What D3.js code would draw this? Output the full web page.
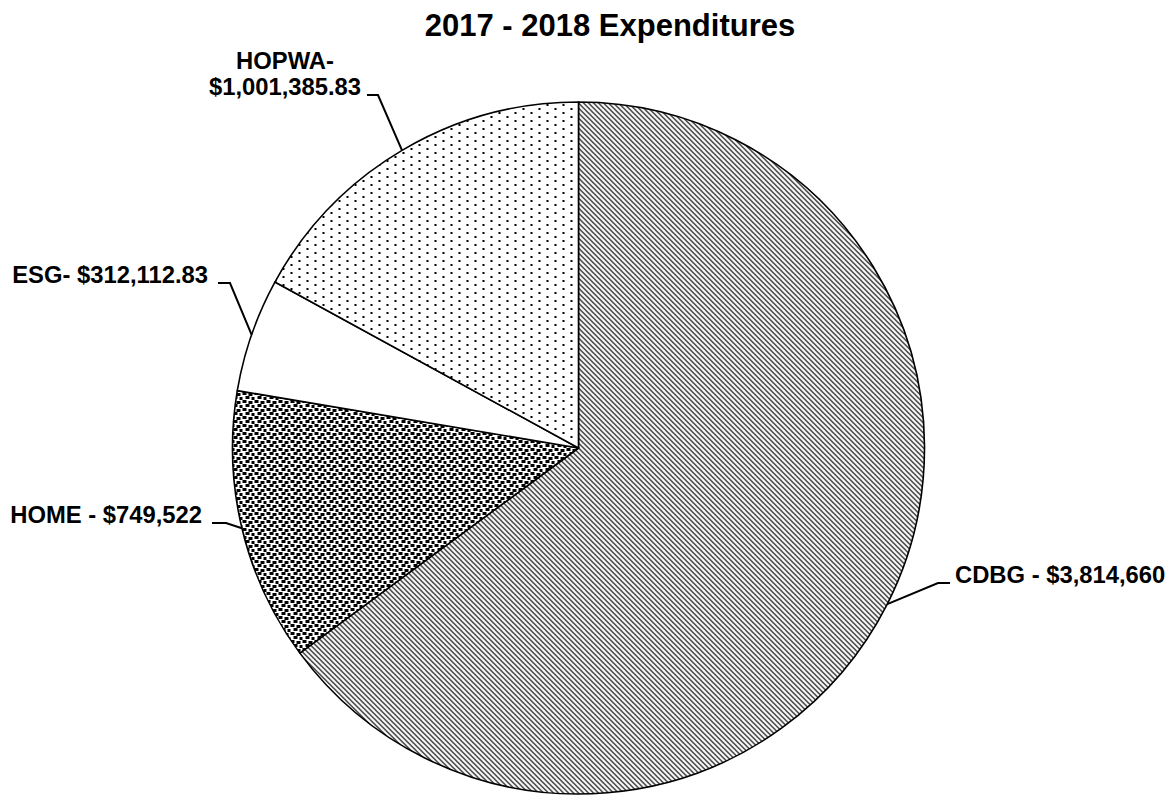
<!DOCTYPE html>
<html>
<head>
<meta charset="utf-8">
<script src="https://cdn.jsdelivr.net/npm/d3@7"></script>
<style>
    body { margin: 0; background: #fff; }
    svg { display: block; font-family: "Liberation Sans", Arial, sans-serif; }
</style>
</head>
<body>
<svg id="pieChart" width="1172" height="796"></svg>
<script>
let categories = ["CDBG", "HOME", "ESG", "HOPWA"];
let amounts = [3814660, 749522, 312112.83, 1001385.83];
let labelLines = [
    ["CDBG - $3,814,660"],
    ["HOME - $749,522"],
    ["ESG- $312,112.83"],
    ["HOPWA-", "$1,001,385.83"]
];
let fills = ["url(#diag)", "url(#confetti)", "#ffffff", "url(#dots)"];

// where each label sits (x, baseline of last line, anchor, end of the short horizontal leader)
let labelPlace = {
    CDBG:  {x: 955, y: 583, anchor: "start", lineFrom: 950, elbow: 938},
    HOME:  {x: 202, y: 523, anchor: "end",   lineFrom: 212, elbow: 226},
    ESG:   {x: 208, y: 283, anchor: "end",   lineFrom: 218, elbow: 230},
    HOPWA: {x: 285, y: 95,  anchor: "middle", lineFrom: 367, elbow: 378}
};

let data = categories.map((c, i) => ({name: c, value: amounts[i], lines: labelLines[i], fill: fills[i]}));

let svg = d3.select("#pieChart"),
    cx = 578.5,
    cy = 448,
    radius = 346;

let defs = svg.append("defs");

let diag = defs.append("pattern")
    .attr("id", "diag")
    .attr("patternUnits", "userSpaceOnUse")
    .attr("width", 5).attr("height", 5);
diag.append("rect").attr("width", 5).attr("height", 5).attr("fill", "#fff");
diag.append("path")
    .attr("d", "M0,0 L5,5 M-1,4 L1,6 M4,-1 L6,1")
    .attr("stroke", "#000")
    .attr("stroke-width", 1.2);

let confetti = defs.append("pattern")
    .attr("id", "confetti")
    .attr("patternUnits", "userSpaceOnUse")
    .attr("width", 12).attr("height", 8);
confetti.append("rect").attr("width", 12).attr("height", 8).attr("fill", "#fff");
[[0, 0], [6, 1], [3, 4], [9, 5]].forEach(function(r){
    confetti.append("rect")
        .attr("x", r[0]).attr("y", r[1])
        .attr("width", 3.5).attr("height", 2.5)
        .attr("fill", "#000")
        .attr("shape-rendering", "crispEdges");
});

let dots = defs.append("pattern")
    .attr("id", "dots")
    .attr("patternUnits", "userSpaceOnUse")
    .attr("width", 16).attr("height", 8);
dots.append("rect").attr("width", 16).attr("height", 8).attr("fill", "#fff");
[[0, 0], [8, 4]].forEach(function(r){
    dots.append("rect")
        .attr("x", r[0]).attr("y", r[1])
        .attr("width", 2).attr("height", 2)
        .attr("fill", "#000")
        .attr("shape-rendering", "crispEdges");
});

svg.append("text")
    .attr("x", 610)
    .attr("y", 36)
    .attr("text-anchor", "middle")
    .style("font-size", "31px")
    .style("font-weight", "bold")
    .text("2017 - 2018 Expenditures");

let pie = d3.pie()
    .sort(null)
    .value(function(d){ return d.value; });

let arcs = pie(data);

let section = d3.arc()
    .innerRadius(0)
    .outerRadius(radius);

let g = svg.append("g")
    .attr("transform", `translate(${cx},${cy})`);

g.selectAll("path.slice")
    .data(arcs)
    .enter()
    .append("path")
    .attr("class", "slice")
    .attr("d", section)
    .attr("fill", function(d){ return d.data.fill; })
    .attr("stroke", "#000")
    .attr("stroke-width", 1.6)
    .attr("stroke-linejoin", "round");

// leader lines + labels
arcs.forEach(function(d){
    let p = labelPlace[d.data.name];
    let mid = (d.startAngle + d.endAngle) / 2;
    let ex = cx + radius * Math.sin(mid),
        ey = cy - radius * Math.cos(mid);

    svg.append("path")
        .attr("d", `M${p.lineFrom},${p.y} L${p.elbow},${p.y} L${ex},${ey}`)
        .attr("fill", "none")
        .attr("stroke", "#000")
        .attr("stroke-width", 2);

    let t = svg.append("text")
        .attr("text-anchor", p.anchor)
        .style("font-size", "23.8px")
        .style("font-weight", "bold");
    let n = d.data.lines.length;
    d.data.lines.forEach(function(line, i){
        t.append("tspan")
            .attr("x", p.x)
            .attr("y", p.y - (n - 1 - i) * 26)
            .text(line);
    });
});
</script>
</body>
</html>
